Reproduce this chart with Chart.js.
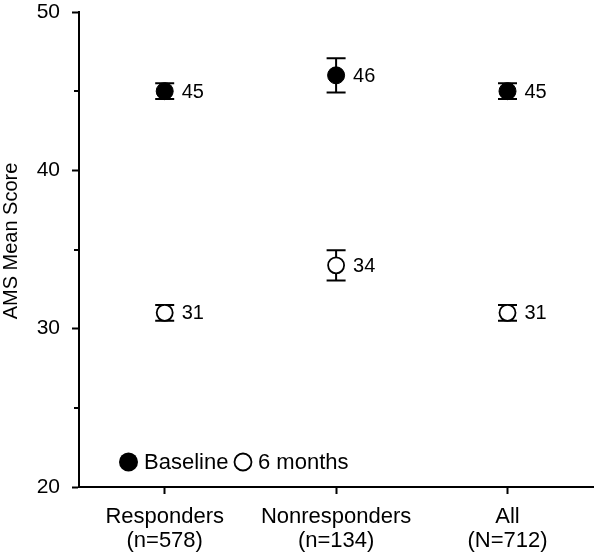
<!DOCTYPE html>
<html>
<head>
<meta charset="utf-8">
<script src="https://cdn.jsdelivr.net/npm/chart.js@4"></script>
<style>
  body { margin: 0; background: #fff; }
  #wrap { width: 603px; height: 555px; }
</style>
</head>
<body>
<div id="wrap"><canvas id="chart"></canvas></div>
<script>
// datos
const groups = [['Responders', '(n=578)'], ['Nonresponders', '(n=134)'], ['All', '(N=712)']];
const baseline = [45, 46, 45];
const baselineErr = [0.5, 1.08, 0.5];
const sixMonths = [31, 34, 31];
const sixMonthsErr = [0.5, 0.95, 0.5];
const yTicks = [20, 30, 40, 50];
const yMinorTicks = [25, 35, 45];

const fontFamily = '"Liberation Sans", Arial, Helvetica, sans-serif';
const ctx = document.getElementById('chart').getContext('2d');

// barras de error, etiquetas, ticks menores, titulo y leyenda
const extras = {
  id: 'extras',
  beforeDatasetsDraw(chart) {
    const c = chart.ctx;
    const y = chart.scales.y;
    const errs = [baselineErr, sixMonthsErr];
    c.save();
    c.strokeStyle = '#000';
    c.lineWidth = 2;
    chart.data.datasets.forEach((ds, i) => {
      chart.getDatasetMeta(i).data.forEach((pt, j) => {
        const top = y.getPixelForValue(ds.data[j] + errs[i][j]);
        const bot = y.getPixelForValue(ds.data[j] - errs[i][j]);
        c.beginPath();
        c.moveTo(pt.x, top); c.lineTo(pt.x, bot);
        c.moveTo(pt.x - 9.5, top); c.lineTo(pt.x + 9.5, top);
        c.moveTo(pt.x - 9.5, bot); c.lineTo(pt.x + 9.5, bot);
        c.stroke();
      });
    });
    c.restore();
  },
  afterDraw(chart) {
    const c = chart.ctx;
    const y = chart.scales.y;
    const area = chart.chartArea;
    c.save();
    // ticks menores
    c.strokeStyle = '#000';
    c.lineWidth = 2;
    yMinorTicks.forEach(v => {
      const py = Math.round(y.getPixelForValue(v));
      c.beginPath();
      c.moveTo(area.left - 5, py); c.lineTo(area.left, py);
      c.stroke();
    });
    // etiquetas de valores
    c.fillStyle = '#000';
    c.font = '20px ' + fontFamily;
    c.textAlign = 'left';
    c.textBaseline = 'middle';
    chart.data.datasets.forEach((ds, i) => {
      chart.getDatasetMeta(i).data.forEach((pt, j) => {
        c.fillText(String(ds.data[j]), pt.x + 17, pt.y + 1);
      });
    });
    // leyenda
    c.font = '22px ' + fontFamily;
    const ly = area.bottom - 25;
    c.beginPath();
    c.arc(area.left + 49.5, ly, 9.5, 0, Math.PI * 2);
    c.fill();
    c.fillText('Baseline', area.left + 65, ly + 1);
    c.beginPath();
    c.arc(area.left + 164, ly, 8.5, 0, Math.PI * 2);
    c.lineWidth = 1.8;
    c.stroke();
    c.fillText('6 months', area.left + 179, ly + 1);
    // titulo del eje y
    c.font = '20px ' + fontFamily;
    c.translate(11, 241);
    c.rotate(-Math.PI / 2);
    c.textAlign = 'center';
    c.fillText('AMS Mean Score', 0, 0);
    c.restore();
  }
};

const chart = new Chart(ctx, {
  type: 'line',
  data: {
    labels: groups,
    datasets: [{
      label: 'Baseline',
      data: baseline,
      showLine: false,
      pointRadius: 8.5,
      pointBackgroundColor: '#000',
      pointBorderColor: '#000',
      pointBorderWidth: 1
    }, {
      label: '6 months',
      data: sixMonths,
      showLine: false,
      pointRadius: 8,
      pointBackgroundColor: '#fff',
      pointBorderColor: '#000',
      pointBorderWidth: 1.8
    }]
  },
  options: {
    responsive: true,
    maintainAspectRatio: false,
    animation: false,
    layout: { padding: { top: 12, right: 1, left: 0, bottom: 0 } },
    plugins: { legend: { display: false }, tooltip: { enabled: false } },
    scales: {
      x: {
        offset: true,
        grid: { display: true, drawOnChartArea: false, offset: false, tickLength: 7, tickWidth: 2, tickColor: '#000' },
        border: { display: true, color: '#000', width: 2 },
        ticks: { color: '#000', padding: 11, font: { size: 22, family: fontFamily, lineHeight: 1.1 } },
        afterFit: scale => { scale.height = 68; scale.paddingLeft = 0; scale.paddingRight = 0; }
      },
      y: {
        min: 20,
        max: 50,
        afterBuildTicks: scale => { scale.ticks = yTicks.map(v => ({ value: v })); },
        grid: { display: true, drawOnChartArea: false, tickLength: 7, tickWidth: 2, tickColor: '#000' },
        border: { display: true, color: '#000', width: 2 },
        ticks: { color: '#000', padding: 12, font: { size: 21, family: fontFamily } },
        afterFit: scale => { scale.width = 79; scale.paddingTop = 0; scale.paddingBottom = 0; }
      }
    }
  },
  plugins: [extras]
});
</script>
</body>
</html>
